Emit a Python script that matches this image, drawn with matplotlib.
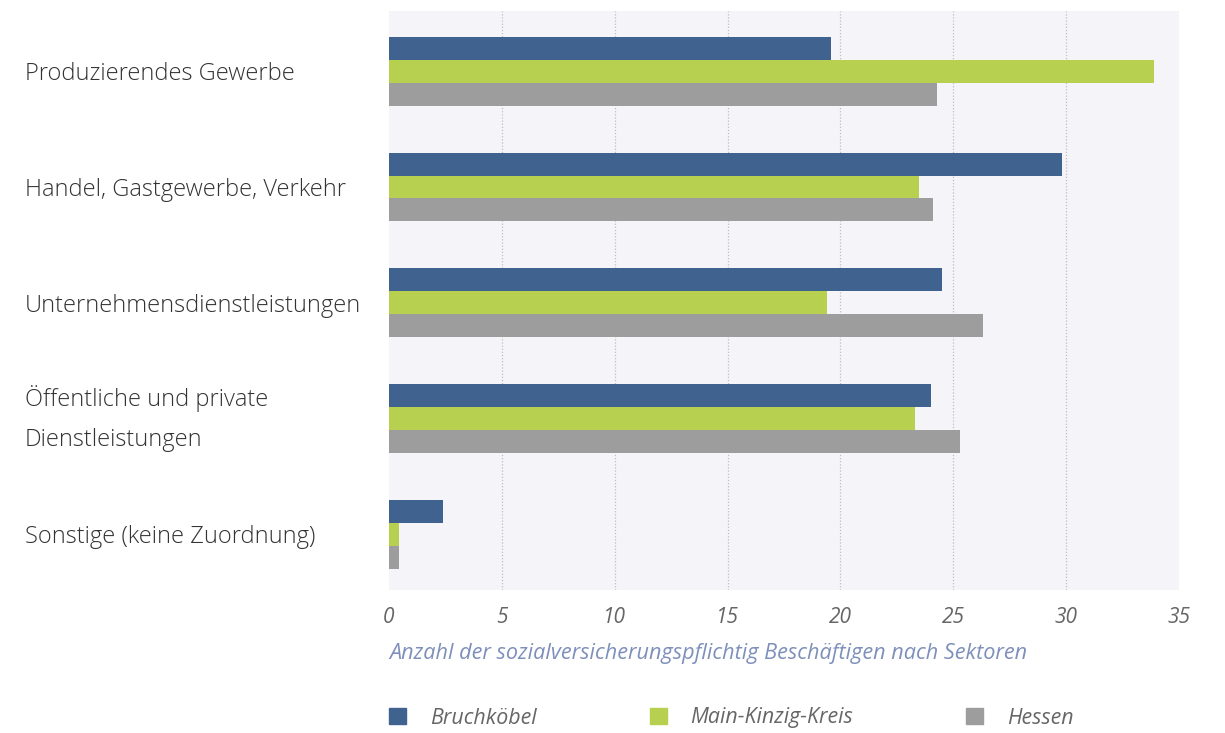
import matplotlib.pyplot as plt
import matplotlib.patches as mpatches
import numpy as np

plt.rcParams['font.family'] = ['Open Sans', 'DejaVu Sans']

# data
sectors = ['Produzierendes Gewerbe', 'Handel, Gastgewerbe, Verkehr',
           'Unternehmensdienstleistungen', 'Öffentliche und private\nDienstleistungen',
           'Sonstige (keine Zuordnung)']
bruchkoebel = [19.6, 29.8, 24.5, 24.0, 2.4]
main_kinzig = [33.9, 23.5, 19.4, 23.3, 0.45]
hessen = [24.3, 24.1, 26.3, 25.3, 0.45]
series_names = ['Bruchköbel', 'Main-Kinzig-Kreis', 'Hessen']
colors = ['#3f628f', '#b7d050', '#9d9d9d']
xticks = [0, 5, 10, 15, 20, 25, 30, 35]

fig = plt.figure(figsize=(12.25, 7.33), dpi=100)
ax = fig.add_axes([389 / 1225, 1 - 590 / 733, 790 / 1225, 579 / 733])
ax.set_facecolor('#f4f4f9')

y = np.arange(len(sectors))
h = 0.198
for i, vals in enumerate([bruchkoebel, main_kinzig, hessen]):
    ax.barh(y + (i - 1) * h, vals, height=h, color=colors[i], zorder=3)

ax.set_xlim(0, 35)
ax.set_ylim(4.48, -0.52)
ax.set_xticks(xticks)
ax.set_xticklabels([str(t) for t in xticks], fontstyle='italic', color='#666666', fontsize=15)
ax.tick_params(axis='x', length=0, pad=12)
for t in xticks[1:-1]:
    ax.axvline(t, color='#bdbdc4', linestyle=(0, (1, 1.5)), linewidth=0.9, zorder=1)

ax.set_yticks(y)
ax.set_yticklabels(sectors, fontsize=17, color='#333333', ha='left', linespacing=1.85, fontweight='light')
ax.tick_params(axis='y', length=0, pad=262)
for lab in ax.get_yticklabels():
    if '\n' in lab.get_text():
        lab.set_va('center')

for s in ax.spines.values():
    s.set_visible(False)

ax.set_xlabel('Anzahl der sozialversicherungspflichtig Beschäftigen nach Sektoren',
              fontstyle='italic', color='#7d8fba', fontsize=15.6, loc='left', labelpad=11)

handles = [mpatches.Patch(color=c, label=n) for c, n in zip(colors, series_names)]
leg = fig.legend(handles=handles, loc='center left', bbox_to_anchor=(389 / 1225, 1 - 718 / 733),
                 ncol=3, frameon=False, handlelength=0.8, handleheight=0.8, handletextpad=1.1,
                 columnspacing=5.3, borderpad=0, borderaxespad=0, fontsize=15.4)
for t in leg.get_texts():
    t.set_fontstyle('italic')
    t.set_color('#666666')

fig.savefig('out.png', dpi=100)
